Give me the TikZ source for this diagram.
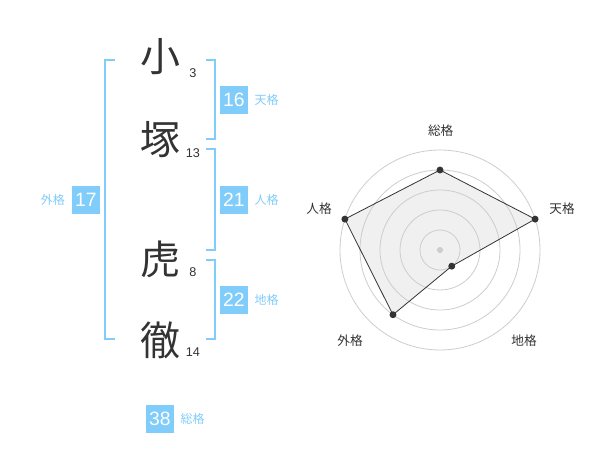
\documentclass[tikz,border=0pt]{standalone}
\usepackage{fontspec}
\setmainfont{Liberation Sans}
\newfontfamily\cjk{Noto Sans CJK JP}
\usetikzlibrary{positioning,calc}
\definecolor{kakublue}{RGB}{128,204,250}
\definecolor{ink}{RGB}{51,51,51}
\definecolor{ring}{RGB}{205,205,205}
\definecolor{area}{RGB}{240,240,240}
\begin{document}
\begin{tikzpicture}[x=0.75pt,y=-0.75pt]
\tikzstyle{every node}+=[inner sep=0pt]
\tikzstyle{kanji}=[font=\cjk\fontsize{30}{30}\selectfont,text=ink]
\tikzstyle{strokes}=[font=\fontsize{9.5}{10}\selectfont,text=ink]
\tikzstyle{kakubox}=[fill=kakublue,minimum size=21pt,text=white,font=\fontsize{14.5}{15}\selectfont]
\tikzstyle{kakuname}=[font=\cjk\fontsize{9}{9}\selectfont,text=kakublue]
\tikzstyle{bracket}=[draw=kakublue,line width=1.5pt]
\tikzstyle{axis}=[font=\cjk\fontsize{9.5}{10}\selectfont,text=ink]
\useasboundingbox (0,0) rectangle (600,470);
% name
\node [kanji] (ko) at (160,57) {小};
\node [kanji] (tsuka) at (160,140) {塚};
\node [kanji] (tora) at (160,259) {虎};
\node [kanji] (tetsu) at (160,340) {徹};
\node [strokes] (kos) at (193,73) {3};
\node [strokes] (tsukas) at (193,153) {13};
\node [strokes] (toras) at (193,272) {8};
\node [strokes] (tetsus) at (193,352) {14};
% brackets
\draw [bracket] (115,60) -- (105,60) -- (105,339) -- (115,339);
\draw [bracket] (206,60) -- (215,60) -- (215,139) -- (206,139);
\draw [bracket] (206,149) -- (215,149) -- (215,250) -- (206,250);
\draw [bracket] (206,260) -- (215,260) -- (215,339) -- (206,339);
% scores
\node [kakubox] (ten) at (234,100) {16};
\node [kakuname,right=4.5pt of ten] (tenl) {天格};
\node [kakubox] (jin) at (234,200) {21};
\node [kakuname,right=4.5pt of jin] (jinl) {人格};
\node [kakubox] (chi) at (234,300) {22};
\node [kakuname,right=4.5pt of chi] (chil) {地格};
\node [kakubox] (gai) at (86,200) {17};
\node [kakuname,left=5pt of gai] (gail) {外格};
\node [kakubox] (so) at (160,419) {38};
\node [kakuname,right=4.5pt of so] (sol) {総格};
% radar
\coordinate (c) at (440,250);
\coordinate (vSo) at ($(c)+(90:60pt)$);
\coordinate (vTen) at ($(c)+(18:75pt)$);
\coordinate (vChi) at ($(c)+(-54:15pt)$);
\coordinate (vGai) at ($(c)+(-126:60pt)$);
\coordinate (vJin) at ($(c)+(162:75pt)$);
\fill [area] (vSo) -- (vTen) -- (vChi) -- (vGai) -- (vJin) -- cycle;
\foreach \r in {15,30,45,60,75}
  \draw [ring,line width=0.6pt] (c) circle (\r pt);
\fill [ring] (c) circle (2.3pt);
\draw [ink,line width=0.6pt] (vSo) -- (vTen) -- (vChi) -- (vGai) -- (vJin) -- cycle;
\foreach \v in {vSo,vTen,vChi,vGai,vJin}
  \fill [ink] (\v) circle (2.6pt);
\node [axis] (soa) at (440.7,130.7) {総格};
\node [axis] (tena) at (562,209) {天格};
\node [axis] (jina) at (319,209) {人格};
\node [axis] (gaia) at (350,341) {外格};
\node [axis] (chia) at (524,341) {地格};
\end{tikzpicture}
\end{document}
